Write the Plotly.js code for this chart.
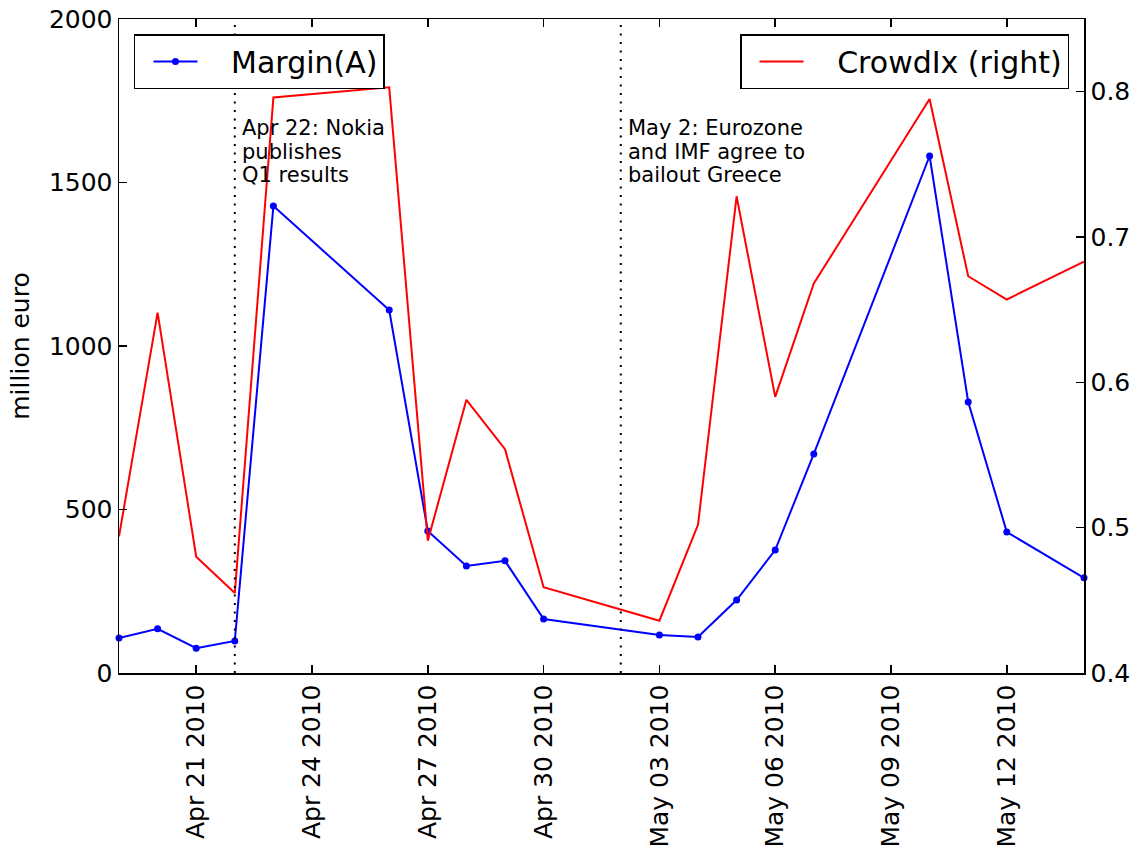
<!DOCTYPE html>
<html>
<head>
<meta charset="utf-8">
<script src="https://cdn.plot.ly/plotly-3.0.1.min.js"></script>
<style>
  html, body { margin: 0; padding: 0; background: #ffffff; }
  #chart { width: 1143px; height: 857px; }
</style>
</head>
<body>
<div id="chart"></div>
<script>
// ---- data ----
var dates = ['2010-04-19', '2010-04-20', '2010-04-21', '2010-04-22', '2010-04-23',
             '2010-04-26', '2010-04-27', '2010-04-28', '2010-04-29', '2010-04-30',
             '2010-05-03', '2010-05-04', '2010-05-05', '2010-05-06', '2010-05-07',
             '2010-05-10', '2010-05-11', '2010-05-12', '2010-05-14'];
var marginA = [107, 135, 76, 98, 1428,
               1110, 434, 327, 343, 165,
               116, 110, 223, 376, 670,
               1581, 829, 431, 291];
var crowdIx = [0.494, 0.648, 0.480, 0.455, 0.796,
               0.803, 0.491, 0.588, 0.554, 0.459,
               0.436, 0.502, 0.728, 0.590, 0.668,
               0.795, 0.673, 0.657, 0.683];
var seriesNames = ['Margin(A)', 'CrowdIx (right)'];
var eventDates = ['2010-04-22', '2010-05-02'];
var eventLines = [['Apr 22: Nokia', 'publishes', 'Q1 results'],
                  ['May 2: Eurozone', 'and IMF agree to', 'bailout Greece']];
var xRange = ['2010-04-19', '2010-05-14'];
var leftRange = [0, 2000];
var rightRange = [0.4, 0.85];
var rightTicks = [0.4, 0.5, 0.6, 0.7, 0.8];
var yTitle = 'million euro';

var FONT = 'DejaVu Sans, Liberation Sans, sans-serif';
var GAP = '\u00a0\u00a0\u00a0';   // space between legend sample and label

var traces = [
  {
    x: dates, y: marginA, type: 'scatter', mode: 'lines+markers',
    name: GAP + seriesNames[0], yaxis: 'y', legend: 'legend',
    line: {color: '#0000ff', width: 2},
    marker: {color: '#0000ff', size: 7, symbol: 'circle'},
    cliponaxis: false
  },
  {
    x: dates, y: crowdIx, type: 'scatter', mode: 'lines',
    name: GAP + seriesNames[1], yaxis: 'y2', legend: 'legend2',
    line: {color: '#ff0000', width: 2}
  }
];

var shapes = eventDates.map(function (d) {
  return {
    type: 'line', xref: 'x', yref: 'paper', x0: d, x1: d, y0: 0, y1: 1,
    line: {color: 'black', width: 2, dash: '2px,6.5px'}, layer: 'above'
  };
});

var LINE_STEP = 23.5 / 654;   // text line spacing in paper units
var annotations = [];
eventDates.forEach(function (d, i) {
  eventLines[i].forEach(function (t, k) {
    annotations.push({
      x: d, xref: 'x', y: 0.854 - k * LINE_STEP, yref: 'paper',
      xanchor: 'left', yanchor: 'top', xshift: 5, align: 'left',
      text: t, showarrow: false,
      font: {family: FONT, size: 21, color: 'black'}
    });
  });
});

var axisCommon = {
  ticks: 'inside', ticklen: 8, tickwidth: 1.5, tickcolor: 'black',
  showline: true, linecolor: 'black', linewidth: 1.5,
  showgrid: false, zeroline: false,
  tickfont: {family: FONT, size: 25, color: 'black'}
};

var legendCommon = {
  y: 0.977, yanchor: 'top',
  bgcolor: 'white', bordercolor: 'black', borderwidth: 1.5,
  font: {family: FONT, size: 30, color: 'black'}, itemwidth: 44, indentation: 13
};

var layout = {
  width: 1143, height: 857,
  margin: {l: 119, r: 59, t: 19, b: 184},
  paper_bgcolor: 'white', plot_bgcolor: 'white',
  font: {family: FONT, size: 25, color: 'black'},
  showlegend: true,
  xaxis: Object.assign({}, axisCommon, {
    type: 'date', range: xRange, tick0: '2010-04-21', dtick: 3 * 86400000,
    tickformat: '%b %d %Y', tickangle: -90, mirror: 'ticks'
  }),
  yaxis: Object.assign({}, axisCommon, {
    range: leftRange, dtick: 500, tick0: 0,
    title: {text: yTitle, font: {family: FONT, size: 25, color: 'black'}, standoff: 12}
  }),
  yaxis2: Object.assign({}, axisCommon, {
    overlaying: 'y', side: 'right', range: rightRange,
    tickvals: rightTicks, ticktext: rightTicks.map(function (v) { return v.toFixed(1); })
  }),
  legend: Object.assign({}, legendCommon, {x: 0.0155, xanchor: 'left'}),
  legend2: Object.assign({}, legendCommon, {x: 0.9845, xanchor: 'right'}),
  shapes: shapes,
  annotations: annotations
};

Plotly.newPlot('chart', traces, layout, {displayModeBar: false, staticPlot: true});
</script>
</body>
</html>
